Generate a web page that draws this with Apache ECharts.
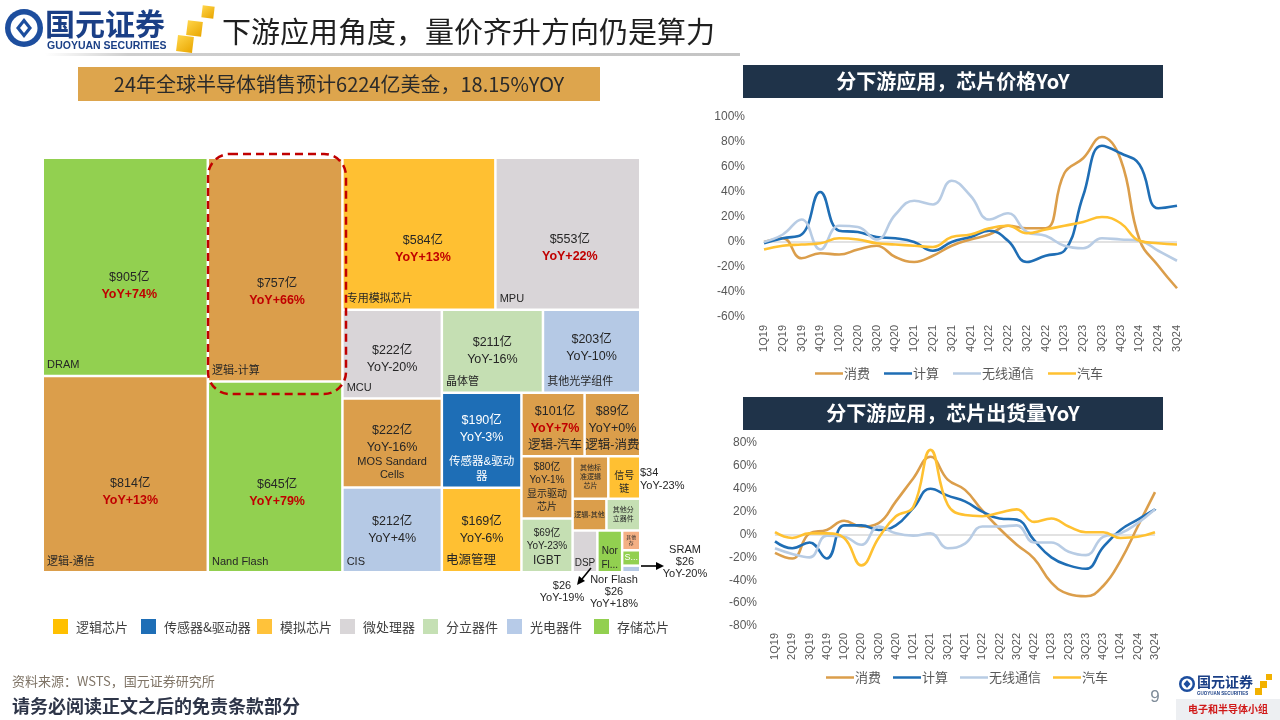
<!DOCTYPE html>
<html>
<head>
<meta charset="utf-8">
<script src="https://cdn.jsdelivr.net/npm/echarts@6/dist/echarts.min.js"></script>
<style>
html,body{margin:0;padding:0;background:#ffffff;}
#c{width:1280px;height:720px;}
</style>
</head>
<body>
<div id="c"></div>
<script>
// ---------------- DATA ----------------
const quarters = ['1Q19','2Q19','3Q19','4Q19','1Q20','2Q20','3Q20','4Q20','1Q21','2Q21','3Q21','4Q21','1Q22','2Q22','3Q22','4Q22','1Q23','2Q23','3Q23','4Q23','1Q24','2Q24','3Q24'];
const lineNames = ['消费','计算','无线通信','汽车'];

const priceConsumer = [0, 3, -13, -9, -10, -6, -3, -12, -16, -11, -3, 2, 6, 13, 11, 11, 55, 67, 84, 66, 2, -19, -37];
const priceCompute  = [-1, 3, 6, 40, 9, 8, 4, 3, 0, -7, 0, 4, 9, 1, -16, -11, -7, 37, 77, 71, 62, 27, 29];
const priceWireless = [0, 6, 18, -6, 13, 12, 2, 22, 33, 30, 49, 37, 18, 23, 8, 5, -3, -5, 3, 2, 1, -7, -15];
const priceAuto     = [-6, -3, -2, -1, 3, 2, -1, -2, -3, -4, 4, 6, 11, 13, 7, 10, 13, 16, 20, 15, 1, -1, -2];

const shipConsumer = [-16, -21, 1, 4, 12, 7, 10, 29, 49, 68, 48, 39, 21, 5, -9, -21, -42, -52, -54, -45, -23, 7, 37];
const shipCompute  = [-6, -12, -7, -21, 8, 8, 4, 8, 23, 40, 34, 29, 20, 14, 13, -5, -20, -27, -30, -11, 4, 13, 22];
const shipWireless = [-12, -17, -20, -1, -2, -9, 7, 1, -1, 1, -12, -8, 7, 7, 8, -7, -7, -15, -18, -2, 1, 10, 22];
const shipAuto     = [2, -3, 1, 1, -3, -27, -3, 16, 24, 74, 26, 17, 16, 19, 22, 11, 14, 7, 2, 2, -3, -2, 2];

const cellNames   = ['DRAM','逻辑-通信','逻辑-计算','Nand Flash','专用模拟芯片','MPU','MCU','MOS Sandard Cells','CIS','晶体管','其他光学组件','传感器&驱动器','电源管理','逻辑-汽车','逻辑-消费','显示驱动芯片','IGBT','其他标准逻辑芯片','信号链','逻辑-其他','其他分立器件','DSP','Nor Flash','其他存储','SRAM','其他光电'];
const cellValues  = [905, 814, 757, 645, 584, 553, 222, 222, 212, 211, 203, 190, 169, 101, 89, 80, 69, 38, 34, 27, 27, 26, 26, 9, 7, 3];
const cellAmounts = [905, 814, 757, 645, 584, 553, 222, 222, 212, 211, 203, 190, 169, 101, 89, 80, 69, null, null, null, null, null, null, null, null, null];
const cellYoY     = [74, 13, 66, 79, 13, 22, -20, -16, 4, -16, -10, -3, -6, 7, 0, -1, -23, null, null, null, null, null, null, null, null, null];
const cellGroups  = ['存储芯片','逻辑芯片','逻辑芯片','存储芯片','模拟芯片','微处理器','微处理器','逻辑芯片','光电器件','分立器件','光电器件','传感器&驱动器','模拟芯片','逻辑芯片','逻辑芯片','逻辑芯片','分立器件','逻辑芯片','模拟芯片','逻辑芯片','分立器件','微处理器','存储芯片','其他存储','存储芯片','光电器件'];

const legendNames = ['逻辑芯片','传感器&驱动器','模拟芯片','微处理器','分立器件','光电器件','存储芯片'];

const annoSignal = ['$34','YoY-23%'];
const annoSram   = ['SRAM','$26','YoY-20%'];
const annoDsp    = ['$26','YoY-19%'];
const annoNor    = ['Nor Flash','$26','YoY+18%'];

const titleText   = '下游应用角度，量价齐升方向仍是算力';
const boxText     = '24年全球半导体销售预计6224亿美金，18.15%YOY';
const chart1Title = '分下游应用，芯片价格YoY';
const chart2Title = '分下游应用，芯片出货量YoY';
const sourceText  = '资料来源：WSTS，国元证券研究所';
const disclaimer  = '请务必阅读正文之后的免责条款部分';

// ---------------- STYLE ----------------
const FONT = '"Liberation Sans", Arial, "Noto Sans CJK SC", sans-serif';
const CJK = '"Noto Sans CJK SC", "Liberation Sans", sans-serif';
const lineColors = ['#DB9E4B', '#1F6EB5', '#B8CCE4', '#FFC131'];
const cellColorMap = {'存储芯片':'#92D050','逻辑芯片':'#DB9E4B','模拟芯片':'#FFC032','微处理器':'#D9D5D8','分立器件':'#C5DFB3','光电器件':'#B5C9E5','传感器&驱动器':'#1E6EB6','其他存储':'#F4B084'};
const legendColors = ['#FFC000','#1E6EB6','#FFC23A','#D9D6D8','#C5E0B4','#B7CBE8','#92D050'];
const legendX = [53, 141, 257, 340, 423, 507, 594];
const TXT = '#262626';

const rich = {
  a:  {fontSize: 12.5, color: TXT, lineHeight: 17, fontFamily: FONT},
  r:  {fontSize: 12.5, color: '#C00000', fontWeight: 'bold', lineHeight: 17, fontFamily: FONT},
  s:  {fontSize: 11, color: TXT, lineHeight: 13, fontFamily: FONT},
  w:  {fontSize: 12.5, color: '#ffffff', lineHeight: 17, fontFamily: FONT},
  ws: {fontSize: 11.5, color: '#ffffff', lineHeight: 15, fontFamily: FONT},
  sp: {fontSize: 6, lineHeight: 8, fontFamily: FONT},
  t:  {fontSize: 10, color: TXT, lineHeight: 13.5, fontFamily: FONT},
  tb: {fontSize: 12, color: TXT, lineHeight: 15, fontFamily: FONT},
  x:  {fontSize: 7, color: TXT, lineHeight: 9, fontFamily: FONT},
  xx: {fontSize: 5, color: TXT, lineHeight: 6, fontFamily: FONT},
  wt: {fontSize: 9, color: '#ffffff', lineHeight: 10, fontFamily: FONT}
};
const bigSet = new Set(['DRAM','逻辑-通信','逻辑-计算','Nand Flash','专用模拟芯片','MPU']);
const midSet = new Set(['MCU','CIS','晶体管','其他光学组件','电源管理']);
// vertical/horizontal shift of the value text block from the cell centre
const labelShift = {
  'DRAM': [4, 19], '逻辑-通信': [5, 18], '逻辑-计算': [2, 22], 'Nand Flash': [2, 16], '专用模拟芯片': [4, 15], 'MPU': [2, 14],
  'MCU': [0, 5], 'MOS Sandard Cells': [0, 9], '传感器&驱动器': [0, 8], '逻辑-汽车': [2, 4], '逻辑-消费': [0, 4],
  'IGBT': [0, 2], '信号链': [0, 5], 'DSP': [0, 12], 'Nor Flash': [0, 7], '其他光学组件': [0, -3]
};
function yoyText(v){ return 'YoY' + (v >= 0 ? '+' : '') + v + '%'; }
function labelLines(i){
  const n = cellNames[i];
  const amt = cellAmounts[i] != null ? '$' + cellAmounts[i] + '亿' : '';
  const y = cellYoY[i];
  const yt = y != null ? yoyText(y) : '';
  const ys = (y != null && y > 5) ? 'r' : 'a';
  if (bigSet.has(n) || midSet.has(n)) return [['a', amt], [ys, yt]];
  switch (n) {
    case 'MOS Sandard Cells': return [['a', amt], ['a', yt], ['s', 'MOS Sandard'], ['s', 'Cells']];
    case '传感器&驱动器': return [['w', amt], ['w', yt], ['sp', ' '], ['ws', '传感器&驱动'], ['ws', '器']];
    case '逻辑-汽车': return [['a', amt], [ys, yt], ['a', '逻辑-汽车']];
    case '逻辑-消费': return [['a', amt], ['a', yt], ['a', '逻辑-消费']];
    case '显示驱动芯片': return [['t', amt], ['t', yt], ['t', '显示驱动'], ['t', '芯片']];
    case 'IGBT': return [['t', amt], ['t', yt], ['tb', 'IGBT']];
    case '其他标准逻辑芯片': return [['x', '其他标'], ['x', '准逻辑'], ['x', '芯片']];
    case '信号链': return [['t', '信号'], ['t', '链']];
    case '逻辑-其他': return [['x', '逻辑-其他']];
    case '其他分立器件': return [['x', '其他分'], ['x', '立器件']];
    case 'DSP': return [['t', 'DSP']];
    case 'Nor Flash': return [['t', 'Nor'], ['t', 'Fl...']];
    case '其他存储': return [['xx', '其他'], ['xx', '存']];
    case 'SRAM': return [['wt', 'S...']];
    default: return [];
  }
}

const tmBox = {left: 44, top: 159, width: 595, height: 412};

function buildValueData(layouts){
  return cellNames.map((n, i) => {
    const lines = labelLines(i);
    const fmt = lines.map(l => '{' + l[0] + '|' + l[1] + '}').join('\n');
    const blockH = lines.reduce((s, l) => s + rich[l[0]].lineHeight, 0);
    const sh = labelShift[n] || [0, 0];
    let offY = 0;
    if (layouts && layouts[i]) offY = layouts[i].height / 2 - blockH / 2 + sh[1];
    return {
      name: n, value: cellValues[i],
      itemStyle: {color: cellColorMap[cellGroups[i]]},
      label: {show: true, position: 'inside', formatter: fmt, offset: [sh[0], offY], rich: rich, padding: 0, overflow: 'none', align: 'center'}
    };
  });
}
const nameData = cellNames.map((n, i) => ({
  name: n, value: cellValues[i],
  itemStyle: {color: 'rgba(0,0,0,0)', borderWidth: 0},
  label: {show: true, position: 'insideBottomLeft', distance: 0, padding: [0, 0, 4, 3], overflow: 'none',
    formatter: (bigSet.has(n) || midSet.has(n)) ? n : '', fontSize: (n === '电源管理') ? 12.5 : 11, color: TXT, fontFamily: FONT}
}));

function lineSeries(name, data, color, idx, zero){
  const s = {
    name: name, type: 'line', data: data, xAxisIndex: idx, yAxisIndex: idx,
    smooth: 0.45, showSymbol: false, symbol: 'none',
    lineStyle: {color: color, width: 2.6}, itemStyle: {color: color},
    z: 3, silent: true
  };
  if (zero) {
    s.markLine = {silent: true, symbol: 'none', label: {show: false}, animation: false,
      lineStyle: {color: '#D9D9D9', width: 1.5, type: 'solid'}, data: [{yAxis: 0}], z: 1};
  }
  return s;
}

// ---------------- GRAPHICS ----------------
const g = [];
g.push({type: 'circle', shape: {cx: 24, cy: 28, r: 19}, style: {fill: '#1D4E9E'}});
g.push({type: 'circle', shape: {cx: 24, cy: 28, r: 13.5}, style: {fill: '#ffffff'}});
g.push({type: 'polygon', shape: {points: [[24, 18], [32, 28], [24, 38], [16, 28]]}, style: {fill: '#1D4E9E'}});
g.push({type: 'polygon', shape: {points: [[24, 23], [28, 28], [24, 33], [20, 28]]}, style: {fill: '#ffffff'}});
g.push({type: 'text', x: 45, y: 24, style: {text: '国元证券', font: 'bold 30px ' + CJK, fill: '#1A3F86', verticalAlign: 'middle'}});
g.push({type: 'text', x: 47, y: 46, style: {text: 'GUOYUAN SECURITIES', font: 'bold 10.5px ' + FONT, fill: '#1A3F86', verticalAlign: 'middle'}});
[[202, 6, 12], [187, 21, 15], [177, 36, 16]].forEach(p => {
  g.push({type: 'rect', x: p[0] + p[2] / 2, y: p[1] + p[2] / 2, rotation: -0.12,
    shape: {x: -p[2] / 2, y: -p[2] / 2, width: p[2], height: p[2]},
    style: {fill: new echarts.graphic.LinearGradient(0, 0, 1, 1, [{offset: 0, color: '#FFD54A'}, {offset: 1, color: '#E9A600'}])}});
});
g.push({type: 'text', x: 222, y: 32, style: {text: titleText, font: '29px ' + CJK, fill: '#1f1f1f', verticalAlign: 'middle'}});
g.push({type: 'rect', shape: {x: 45, y: 53, width: 695, height: 3},
  style: {fill: new echarts.graphic.LinearGradient(0, 0, 1, 0, [{offset: 0, color: '#ffffff'}, {offset: 0.12, color: '#CFCFCF'}, {offset: 1, color: '#C4C4C4'}])}});
g.push({type: 'rect', shape: {x: 78, y: 67, width: 522, height: 34}, style: {fill: '#DDA54D'}});
g.push({type: 'text', x: 339, y: 84.5, style: {text: boxText, font: '20px ' + CJK, fill: '#2a2a2a', align: 'center', verticalAlign: 'middle'}});
[[65, chart1Title], [397, chart2Title]].forEach(p => {
  g.push({type: 'rect', shape: {x: 743, y: p[0], width: 420, height: 33}, style: {fill: '#1F3349'}});
  g.push({type: 'text', x: 953, y: p[0] + 16.5, style: {text: p[1], font: 'bold 20px ' + CJK, fill: '#ffffff', align: 'center', verticalAlign: 'middle'}});
});
g.push({type: 'rect', z: 100, shape: {x: 208, y: 154, width: 138, height: 240, r: 22},
  style: {fill: 'none', stroke: '#C00000', lineWidth: 2.5, lineDash: [8, 5]}});
const annoFont = '11px ' + FONT;
g.push({type: 'text', z: 100, x: 640, y: 466, style: {text: annoSignal.join('\n'), font: annoFont, fill: TXT, lineHeight: 13}});
g.push({type: 'text', z: 100, x: 685, y: 544, style: {text: annoSram.join('\n'), font: annoFont, fill: TXT, lineHeight: 12, align: 'center'}});
g.push({type: 'text', z: 100, x: 562, y: 580, style: {text: annoDsp.join('\n'), font: annoFont, fill: TXT, lineHeight: 12, align: 'center'}});
g.push({type: 'text', z: 100, x: 614, y: 574, style: {text: annoNor.join('\n'), font: annoFont, fill: TXT, lineHeight: 12, align: 'center'}});
g.push({type: 'line', z: 100, shape: {x1: 641, y1: 566, x2: 657, y2: 566}, style: {stroke: '#000', lineWidth: 1.6}});
g.push({type: 'polygon', z: 100, shape: {points: [[664, 566], [656, 562], [656, 570]]}, style: {fill: '#000'}});
g.push({type: 'line', z: 100, shape: {x1: 591, y1: 568, x2: 582, y2: 579}, style: {stroke: '#000', lineWidth: 1.6}});
g.push({type: 'polygon', z: 100, shape: {points: [[577, 585], [579, 576], [585, 581]]}, style: {fill: '#000'}});
legendNames.forEach((n, i) => {
  g.push({type: 'rect', shape: {x: legendX[i], y: 619, width: 15, height: 15}, style: {fill: legendColors[i]}});
  g.push({type: 'text', x: legendX[i] + 23, y: 627, style: {text: n, font: '13px ' + CJK, fill: '#404040', verticalAlign: 'middle'}});
});
g.push({type: 'text', x: 12, y: 681, style: {text: sourceText, font: '13px ' + CJK, fill: '#7F7466', verticalAlign: 'middle'}});
g.push({type: 'text', x: 12, y: 706, style: {text: disclaimer, font: 'bold 18px ' + CJK, fill: '#2E3548', verticalAlign: 'middle'}});
g.push({type: 'text', x: 1155, y: 697, style: {text: '9', font: '17px ' + FONT, fill: '#7F8C99', align: 'center', verticalAlign: 'middle'}});
g.push({type: 'rect', shape: {x: 1176, y: 672, width: 104, height: 48}, style: {fill: '#EDEFF2'}});
g.push({type: 'rect', shape: {x: 1176, y: 672, width: 104, height: 27}, style: {fill: '#ffffff'}});
g.push({type: 'circle', shape: {cx: 1187, cy: 684, r: 8}, style: {fill: '#1D4E9E'}});
g.push({type: 'circle', shape: {cx: 1187, cy: 684, r: 5.5}, style: {fill: '#ffffff'}});
g.push({type: 'polygon', shape: {points: [[1187, 680], [1190.5, 684], [1187, 688], [1183.5, 684]]}, style: {fill: '#1D4E9E'}});
g.push({type: 'text', x: 1197, y: 682, style: {text: '国元证券', font: 'bold 14px ' + CJK, fill: '#1A3F86', verticalAlign: 'middle'}});
g.push({type: 'text', x: 1197, y: 694, style: {text: 'GUOYUAN SECURITIES', font: 'bold 4.5px ' + FONT, fill: '#1A3F86', verticalAlign: 'middle'}});
[[1266, 674, 6], [1260, 681, 7], [1255, 688, 7]].forEach(p => {
  g.push({type: 'rect', shape: {x: p[0], y: p[1], width: p[2], height: p[2]}, style: {fill: '#F2B100'}});
});
g.push({type: 'text', x: 1228, y: 709, style: {text: '电子和半导体小组', font: 'bold 10px ' + CJK, fill: '#D01818', align: 'center', verticalAlign: 'middle'}});

// ---------------- OPTION ----------------
const axisLabelX = {rotate: 90, interval: 0, fontSize: 11, color: '#595959', fontFamily: FONT};
const option = {
  animation: false,
  textStyle: {fontFamily: FONT},
  grid: [
    {left: 764, top: 117, width: 413, height: 200},
    {left: 775, top: 443, width: 380, height: 183}
  ],
  xAxis: [
    {gridIndex: 0, type: 'category', data: quarters, boundaryGap: false, axisLine: {show: false}, axisTick: {show: false},
      axisLabel: Object.assign({margin: 8}, axisLabelX)},
    {gridIndex: 1, type: 'category', data: quarters, boundaryGap: false, axisLine: {show: false}, axisTick: {show: false},
      axisLabel: Object.assign({margin: 7}, axisLabelX)}
  ],
  yAxis: [
    {gridIndex: 0, type: 'value', min: -60, max: 100, interval: 20, splitLine: {show: false}, axisLine: {show: false}, axisTick: {show: false},
      axisLabel: {formatter: '{value}%', fontSize: 12, color: '#595959', margin: 19, fontFamily: FONT}},
    {gridIndex: 1, type: 'value', min: -80, max: 80, interval: 20, splitLine: {show: false}, axisLine: {show: false}, axisTick: {show: false},
      axisLabel: {formatter: '{value}%', fontSize: 12, color: '#595959', margin: 18, fontFamily: FONT}}
  ],
  legend: [
    {data: lineNames, left: 815, top: 367, icon: 'rect', itemWidth: 28, itemHeight: 2.5, itemGap: 14, padding: 0,
      textStyle: {fontSize: 13, color: '#595959', fontFamily: CJK, padding: [0, 0, 0, -4]}, selectedMode: false},
    {data: lineNames, left: 826, top: 671, icon: 'rect', itemWidth: 28, itemHeight: 2.5, itemGap: 12, padding: 0,
      textStyle: {fontSize: 13, color: '#595959', fontFamily: CJK, padding: [0, 0, 0, -4]}, selectedMode: false}
  ],
  graphic: {elements: g},
  series: [
    {
      type: 'treemap', name: 'values', left: tmBox.left, top: tmBox.top, width: tmBox.width, height: tmBox.height,
      roam: false, nodeClick: false, sort: false, squareRatio: 0.88, silent: true,
      breadcrumb: {show: false}, visibleMin: 1,
      itemStyle: {gapWidth: 2.5, borderWidth: 0, borderColor: '#ffffff'},
      label: {show: true, padding: 0},
      upperLabel: {show: false},
      emphasis: {disabled: true},
      data: buildValueData(null)
    },
    {
      type: 'treemap', name: 'names', left: tmBox.left, top: tmBox.top, width: tmBox.width, height: tmBox.height,
      roam: false, nodeClick: false, sort: false, squareRatio: 0.88, silent: true,
      breadcrumb: {show: false}, visibleMin: 1,
      itemStyle: {gapWidth: 2.5, borderWidth: 0, color: 'rgba(0,0,0,0)'},
      upperLabel: {show: false},
      emphasis: {disabled: true},
      data: nameData
    },
    lineSeries('消费', priceConsumer, lineColors[0], 0, true),
    lineSeries('计算', priceCompute, lineColors[1], 0, false),
    lineSeries('无线通信', priceWireless, lineColors[2], 0, false),
    lineSeries('汽车', priceAuto, lineColors[3], 0, false),
    lineSeries('消费', shipConsumer, lineColors[0], 1, true),
    lineSeries('计算', shipCompute, lineColors[1], 1, false),
    lineSeries('无线通信', shipWireless, lineColors[2], 1, false),
    lineSeries('汽车', shipAuto, lineColors[3], 1, false)
  ]
};
const chart = echarts.init(document.getElementById('c'));
chart.setOption(option);
// centre the value labels using the treemap's own computed cell layout
try {
  const tree = chart.getModel().getSeriesByIndex(0).getData().tree;
  const layouts = tree.root.children.map(node => node.getLayout());
  chart.setOption({series: [{data: buildValueData(layouts)}]});
} catch (e) { console.log(e); }
</script>
</body>
</html>
